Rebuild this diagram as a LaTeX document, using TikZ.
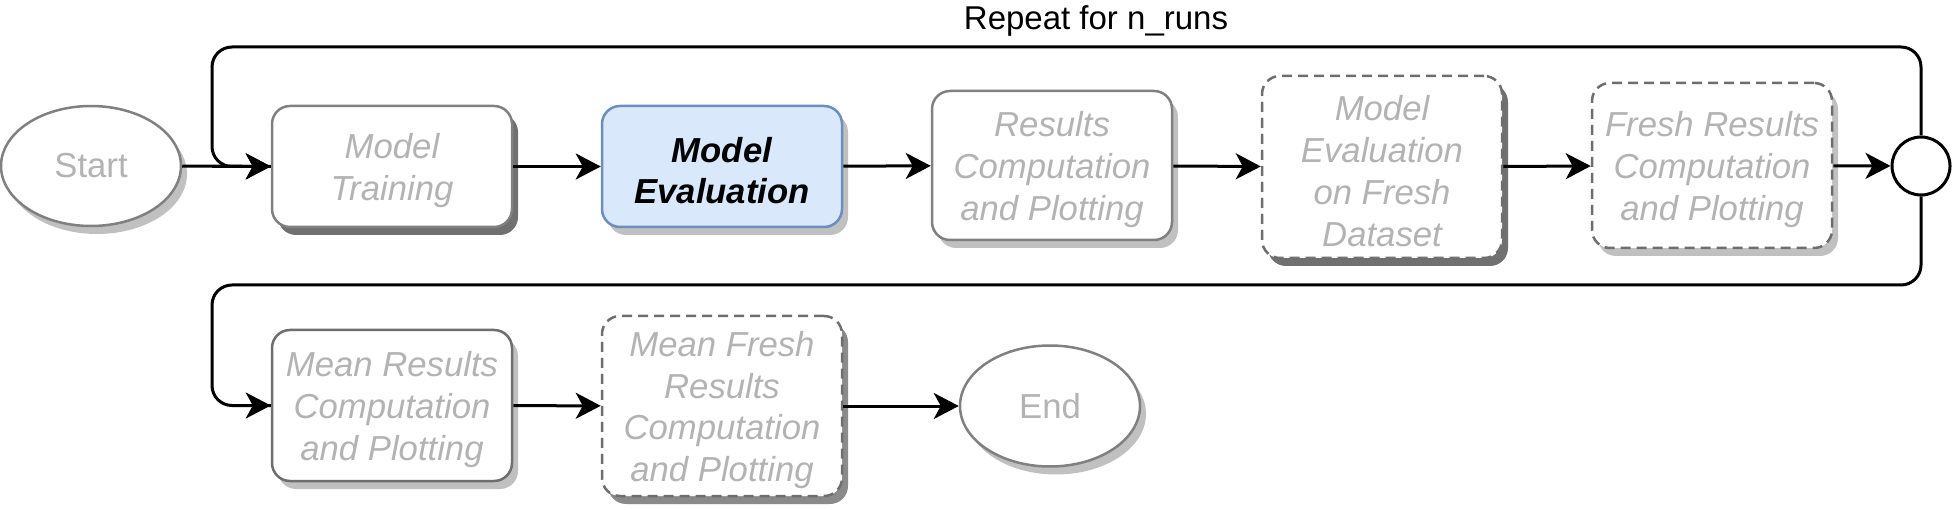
\documentclass[tikz,border=0pt]{standalone}
\usepackage{fontspec}
\setmainfont{Liberation Sans}
\usetikzlibrary{arrows.meta,shadows,shapes.geometric}
\definecolor{txtgray}{HTML}{B3B3B3}
\definecolor{strk}{HTML}{808080}
\definecolor{strkd}{HTML}{6E6E6E}
\definecolor{shlight}{HTML}{C0C0C0}
\definecolor{shdark}{HTML}{707070}
\definecolor{shmid}{HTML}{8A8A8A}
\definecolor{bluefill}{HTML}{DAE8FC}
\definecolor{bluestroke}{HTML}{6C8EBF}
\tikzset{
  txt/.style={font=\fontsize{34.7}{41.8}\selectfont\itshape, text=txtgray, align=center, inner sep=0pt, yshift=-4pt},
  boxbase/.style={rectangle, rounded corners=18pt, draw=strk, line width=2.5pt, fill=white, inner sep=0pt, minimum width=240pt},
  dashbox/.style={boxbase, draw=strkd, dash pattern=on 10pt off 6pt},
  ovalbox/.style={ellipse, draw=strk, line width=2.5pt, fill=white, inner sep=0pt, font=\fontsize{34.7}{41.8}\selectfont, text=txtgray},
  shL/.style={general shadow={fill=shlight, draw=none, shadow xshift=6pt, shadow yshift=-8pt}},
  shD/.style={general shadow={fill=shdark, draw=none, shadow xshift=6pt, shadow yshift=-8pt}},
  shM/.style={general shadow={fill=shmid, draw=none, shadow xshift=6pt, shadow yshift=-8pt}},
  conn/.style={line width=3pt, -{Stealth[length=25pt,width=26pt,inset=7pt]}},
  loopline/.style={line width=3pt, rounded corners=20pt},
}
\begin{document}
\begin{tikzpicture}[x=1pt,y=-1pt]
\useasboundingbox (0,0) rectangle (1953,510);
% nodes
\node[ovalbox, shL, minimum width=180pt, minimum height=120pt] (start) at (91,166) {Start};
\node[boxbase, shD, minimum height=121pt,
  label={[txt]center:{Model\\Training}}] (mt) at (392,166.5) {};
\node[boxbase, shL, minimum height=121pt, fill=bluefill, draw=bluestroke,
  label={[txt, text=black, font=\fontsize{34.7}{41.8}\selectfont\bfseries\itshape]center:{Model\\Evaluation}}] (me) at (722,166.5) {};
\node[boxbase, shL, minimum height=149pt,
  label={[txt]center:{Results\\Computation\\and Plotting}}] (res) at (1052,165.5) {};
\node[dashbox, shD, minimum height=182pt,
  label={[txt]center:{Model\\Evaluation\\on Fresh\\Dataset}}] (mef) at (1382,167) {};
\node[dashbox, shL, minimum height=165pt,
  label={[txt]center:{Fresh Results\\Computation\\and Plotting}}] (fr) at (1712,165.5) {};
\node[circle, draw=black, line width=3pt, fill=white, minimum size=58pt, inner sep=0pt] (circ) at (1921,166) {};
\node[boxbase, shL, draw=strkd, minimum height=151pt,
  label={[txt]center:{Mean Results\\Computation\\and Plotting}}] (mr) at (392,405.5) {};
\node[dashbox, shM, minimum height=180pt,
  label={[txt]center:{Mean Fresh\\Results\\Computation\\and Plotting}}] (mf) at (722,406) {};
\node[ovalbox, shL, minimum width=180pt, minimum height=121pt] (end) at (1050,406) {End};
\node[font=\fontsize{33}{40}\selectfont, text=black] (rep) at (1096,21) {Repeat for n\_runs};
% loop coordinates
\coordinate (tl) at (212,47);
\coordinate (ml) at (212,285);
% connectors
\draw[loopline] (circ.north) |- (tl) |- (mt.west);
\draw[loopline] (circ.south) |- (ml) |- (mr.west);
\draw[conn] (start) -- (mt);
\draw[conn] (tl |- mt.west) -- (mt.west);
\draw[conn] (mt) -- (me);
\draw[conn] (me) -- (res);
\draw[conn] (res) -- (mef);
\draw[conn] (mef) -- (fr);
\draw[conn] (fr) -- (circ);
\draw[conn] ([xshift=-30pt]mr.west) -- (mr.west);
\draw[conn] (mr) -- (mf);
\draw[conn] (mf) -- (end);
\end{tikzpicture}
\end{document}
